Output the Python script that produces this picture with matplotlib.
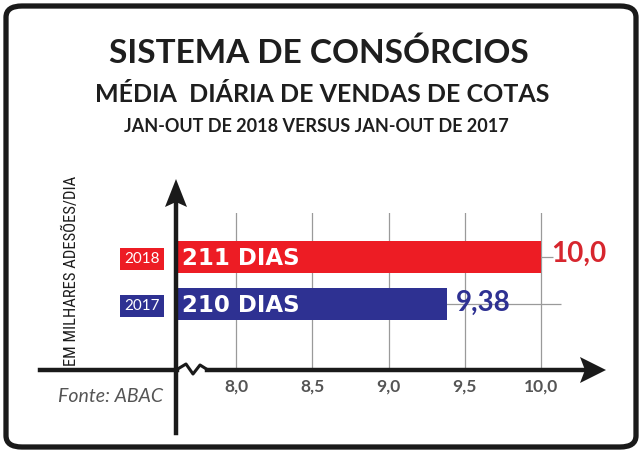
import matplotlib
matplotlib.use('Agg')
import matplotlib.pyplot as plt
import numpy as np
from matplotlib import font_manager
from matplotlib.lines import Line2D
from matplotlib.patches import FancyBboxPatch, Polygon
from matplotlib.transforms import blended_transform_factory

# dados
years = ['2017', '2018']
values = [9.38, 10.0]
day_labels = ['210 DIAS', '211 DIAS']
value_labels = ['9,38', '10,0']
xticks = [8.0, 8.5, 9.0, 9.5, 10.0]
xtick_labels = ['8,0', '8,5', '9,0', '9,5', '10,0']

RED = '#ED1C24'
BLUE = '#2E3192'
colors = [BLUE, RED]
label_colors = [BLUE, '#D7262E']

W, H = 641, 453
fig = plt.figure(figsize=(W / 100, H / 100), dpi=100)


def px(x, y):
    # pixel (top-left origin) -> figure fraction
    return x / W, 1 - y / H


# fonte condensada para o rotulo do eixo y, se houver
installed = {f.name for f in font_manager.fontManager.ttflist}
narrow = next((n for n in ['Liberation Sans Narrow', 'Roboto Condensed',
                           'Open Sans Condensed', 'DejaVu Sans Condensed'] if n in installed), None)

# moldura arredondada
frame = FancyBboxPatch(px(6, 447), 630 / W, 441 / H,
                       boxstyle='round,pad=0,rounding_size=0.025',
                       transform=fig.transFigure, fill=False, ec='#1a1a1a', lw=3.8)
fig.patches.append(frame)

# titulos
title_font = 'Lato'
fig.text(0.497, px(0, 53)[1], 'SISTEMA DE CONSÓRCIOS', ha='center', va='center',
         fontsize=24, fontweight='bold', family=title_font, color='#1e1e1e')
fig.text(0.502, px(0, 94)[1], 'MÉDIA  DIÁRIA DE VENDAS DE COTAS', ha='center', va='center',
         fontsize=18, fontweight='bold', family=title_font, color='#1e1e1e')
fig.text(0.494, px(0, 126)[1], 'JAN-OUT DE 2018 VERSUS JAN-OUT DE 2017', ha='center', va='center',
         fontsize=13, fontweight='bold', family=title_font, color='#1e1e1e')

# eixo de dados
x0, x1 = 176, 606
y_top, y_bot = 213, 370
ax = fig.add_axes([x0 / W, 1 - y_bot / H, (x1 - x0) / W, (y_bot - y_top) / H])
ax.set_xlim(7.605, 7.605 + (x1 - x0) / 152.4)
ax.set_ylim(-1.404, 1.936)
for s in ax.spines.values():
    s.set_visible(False)

ypos = np.arange(len(years))
ax.set_xticks(xticks)
ax.set_xticklabels(xtick_labels, fontsize=12.5, fontweight='bold', family='Lato', color='#555555')
ax.tick_params(axis='x', length=0, pad=6)
ax.set_yticks([])
ax.grid(axis='x', color='#9a9a9a', lw=0.9)
ax.set_axisbelow(True)

# linhas horizontais curtas atras das barras
ax.hlines(ypos, ax.get_xlim()[0], [10.13, 10.08], color='#9a9a9a', lw=0.9, zorder=1)

left = ax.get_xlim()[0] + 0.01
ax.barh(ypos, np.array(values) - left, left=left, height=0.66, color=colors, zorder=2)

for y, lab in zip(ypos, day_labels):
    ax.text(left + 0.03, y - 0.03, lab, ha='left', va='center', color='white',
            fontsize=16.5, fontweight='bold', family='DejaVu Sans', zorder=3)

ax.text(values[1] + 0.07, ypos[1] + 0.06, value_labels[1], ha='left', va='center',
        color=label_colors[1], fontsize=20, fontweight='bold', family='Lato')
ax.text(values[0] + 0.06, ypos[0] + 0.02, value_labels[0], ha='left', va='center',
        color=label_colors[0], fontsize=20, fontweight='bold', family='Lato')

# caixas dos anos
tr = blended_transform_factory(ax.transAxes, ax.transData)
for y, yr, c in zip(ypos, years, colors):
    ax.text(-0.079, y - 0.04, yr, transform=tr, ha='center', va='center', color='white',
            fontsize=11, family='Lato',
            bbox=dict(boxstyle='square,pad=0.28', fc=c, ec='none'))

# eixos com setas (decoracao)
lw_axis = 3.2
fig.add_artist(Line2D(*zip(px(40, 370), px(177, 370)), color='#1a1a1a', lw=lw_axis))
fig.add_artist(Line2D(*zip(px(207, 370), px(585, 370)), color='#1a1a1a', lw=lw_axis))
zig = [px(176, 370), px(186, 364), px(193, 374), px(200, 365), px(208, 370)]
fig.add_artist(Line2D([p[0] for p in zig], [p[1] for p in zig], color='#1a1a1a', lw=2.2))
fig.patches.append(Polygon([px(606, 370), px(580, 357), px(585, 370), px(580, 383)],
                           closed=True, transform=fig.transFigure, fc='#1a1a1a', ec='none'))
fig.add_artist(Line2D(*zip(px(176, 433), px(176, 200)), color='#1a1a1a', lw=lw_axis))
fig.patches.append(Polygon([px(176, 179), px(165, 207), px(176, 202), px(187, 207)],
                           closed=True, transform=fig.transFigure, fc='#1a1a1a', ec='none'))

# rotulo do eixo y
if narrow:
    ylab_kw = dict(family=[narrow, 'DejaVu Sans'], fontsize=12)
else:
    ylab_kw = dict(family='DejaVu Sans', fontstretch='condensed', fontsize=9.5)
fig.text(px(71, 0)[0], px(0, 271)[1], 'EM MILHARES ADESÕES/DIA', rotation=90,
         ha='center', va='center', color='#1e1e1e', **ylab_kw)

# fonte
fig.text(px(58, 0)[0], px(0, 396)[1], 'Fonte: ABAC', ha='left', va='center',
         fontsize=14, style='italic', family='Lato', color='#555555')

fig.savefig('out.png', dpi=100)
